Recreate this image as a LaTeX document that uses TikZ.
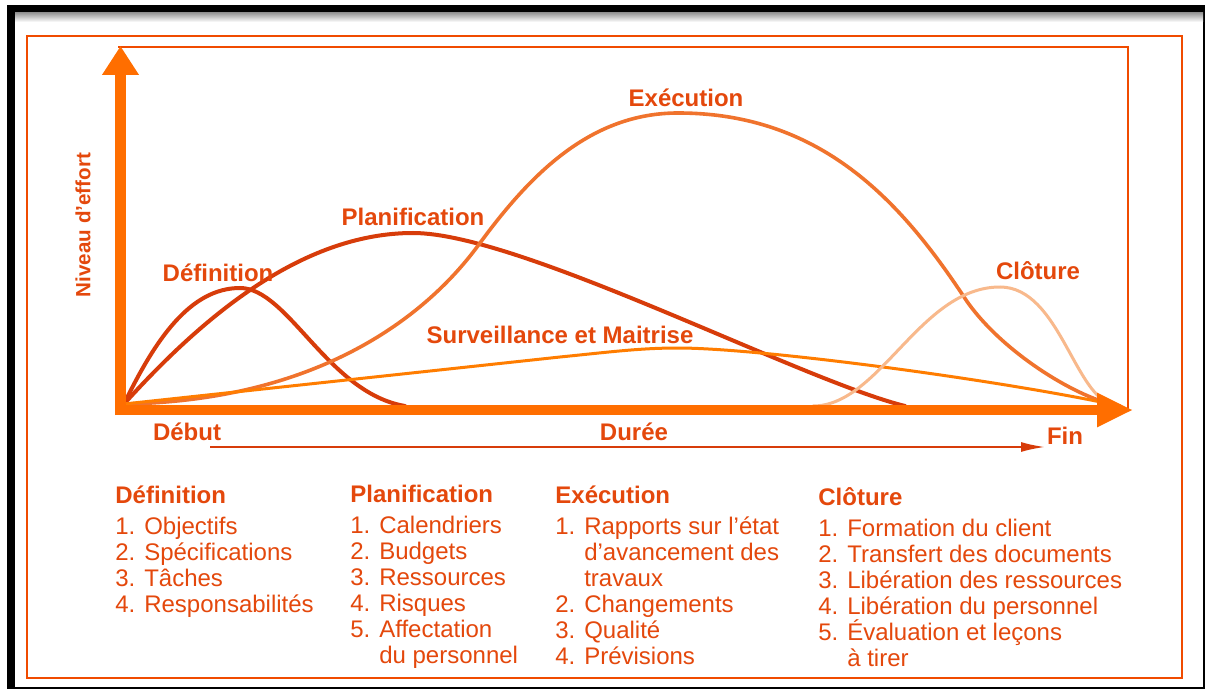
\documentclass[tikz,border=0pt]{standalone}
\usepackage{fontspec}
\setmainfont{Liberation Sans}
\usetikzlibrary{arrows.meta}
\definecolor{txtc}{RGB}{228,72,12}
\definecolor{framec}{RGB}{240,75,0}
\definecolor{axisc}{RGB}{255,110,0}
\definecolor{darkc}{RGB}{215,60,10}
\definecolor{exec}{RGB}{240,115,45}
\definecolor{survc}{RGB}{255,125,0}
\definecolor{clotc}{RGB}{248,185,140}
\newcommand{\sk}{\phantom{5. }}
\begin{document}
\begin{tikzpicture}[x=0.5pt,y=-0.5pt,>=latex,
  curve/.style={line width=2pt,line cap=round},
  lbl/.style={text=txtc,font=\bfseries\fontsize{12}{13}\selectfont,inner sep=0},
  col/.style={text=txtc,font=\fontsize{12}{13}\selectfont,align=left,anchor=north west,inner sep=0}]
\useasboundingbox (0,0) rectangle (1206,690);
% cadre
\fill[black] (7,5) rectangle (1205,689);
\fill[white] (15,13) rectangle (1203,687);
\shade[top color=gray!80,bottom color=white] (15,13) rectangle (1203,22);
\draw[framec,line width=1pt] (27,36) rectangle (1182,678);
\draw[framec,line width=1pt] (118,47) -| (1128,410);

% courbes
\coordinate (O) at (124,404);
\draw[curve,darkc] (O) .. controls (155,340) and (190,288) .. (240,288)
  .. controls (288,288) and (328,393) .. (405,406);
\draw[curve,darkc] (O) .. controls (200,320) and (300,233) .. (413,233)
  .. controls (520,233) and (800,380) .. (905,406);
\draw[curve,exec,line width=1.8pt] (O) .. controls (360,400) and (455,277) .. (480,243)
  .. controls (530,175) and (590,113) .. (678,113)
  .. controls (820,113) and (900,200) .. (964,297)
  .. controls (1000,352) and (1080,400) .. (1120,406);
\draw[curve,survc,line width=1.5pt] (O) -- (560,357) .. controls (610,352) and (640,348) .. (678,348)
  .. controls (760,348) and (1000,380) .. (1120,406);
\draw[curve,clotc,line width=1.5pt] (813,406) .. controls (880,406) and (920,287) .. (1000,287)
  .. controls (1060,287) and (1075,400) .. (1115,405);

% axes
\coordinate (Oy) at (120.5,415);
\coordinate (Ty) at (120.5,46);
\coordinate (Ox) at (115,410);
\coordinate (Tx) at (1133,410);
\draw[axisc,line width=5.5pt,-{Triangle[length=14.5pt,width=17.5pt]}] (Oy)--(Ty);
\draw[axisc,line width=5pt,-{Triangle[length=18pt,width=16pt]}] (Ox)--(Tx);
\coordinate (dA) at (210,447);
\coordinate (dB) at (1045,447);
\draw[darkc,line width=1pt,-{Latex[length=12pt,width=5pt]}] (dA)--(dB);

\node[lbl] (debut) at (187,432) {Début};
\node[lbl] (duree) at (634,432) {Durée};
\node[lbl] (fin) at (1065,436) {Fin};
\node[lbl,rotate=90,font=\bfseries\fontsize{10.3}{12}\selectfont] (niveau) at (83,225) {Niveau d'effort};

\node[lbl] (deflbl) at (218,273) {Définition};
\node[lbl] (planlbl) at (413,217) {Planification};
\node[lbl] (exelbl) at (686,98) {Exécution};
\node[lbl] (clolbl) at (1038,271) {Clôture};
\node[lbl] (survlbl) at (560,335) {Surveillance et Maitrise};

% colonnes
\node[col] (defcol) at (115,485) {\textbf{Définition}\\[2.5pt] 1. Objectifs\\ 2. Spécifications\\ 3. Tâches\\ 4. Responsabilités};
\node[col] (plancol) at (350,485) {\textbf{Planification}\\[2.5pt] 1. Calendriers\\ 2. Budgets\\ 3. Ressources\\ 4. Risques\\ 5. Affectation\\ \sk du personnel};
\node[col] (execol) at (555,485) {\textbf{Exécution}\\[2.5pt] 1. Rapports sur l’état\\ \sk d’avancement des\\ \sk travaux\\ 2. Changements\\ 3. Qualité\\ 4. Prévisions};
\node[col] (clotcol) at (818,487) {\textbf{Clôture}\\[2.5pt] 1. Formation du client\\ 2. Transfert des documents\\ 3. Libération des ressources\\ 4. Libération du personnel\\ 5. Évaluation et leçons\\ \sk à tirer};
\end{tikzpicture}
\end{document}
